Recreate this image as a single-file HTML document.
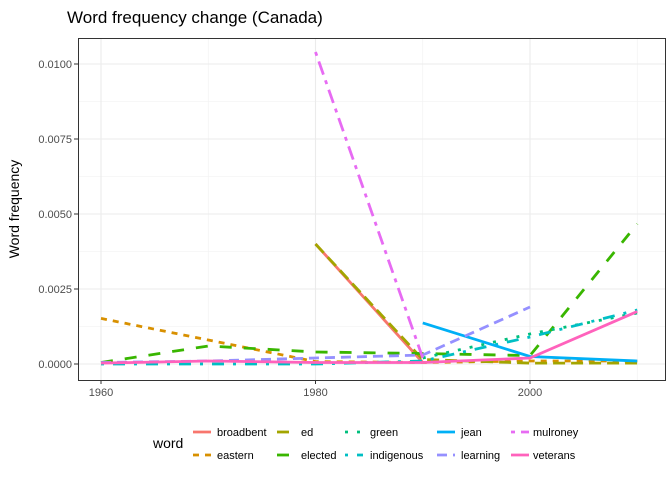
<!DOCTYPE html>
<html><head><meta charset="utf-8"><style>
body{margin:0;background:#fff;font-family:"Liberation Sans",Arial,sans-serif}
</style></head><body>
<svg id="c" width="672" height="480" xmlns="http://www.w3.org/2000/svg" font-family="Liberation Sans, Arial, sans-serif">
<text x="67" y="23" font-size="17" fill="#000">Word frequency change (Canada)</text>
<text transform="translate(19,209) rotate(-90)" text-anchor="middle" font-size="14" fill="#000">Word frequency</text>
<g id="grid"></g><g id="series"></g><g id="axes"></g><g id="legend"></g>
<rect x="78.5" y="38.5" width="587" height="342" fill="none" stroke="#333" stroke-width="1"/>
</svg>
<script>
const xTicks=[1960,1980,2000];
const yTicks=[0,0.0025,0.005,0.0075,0.01];
const yLabels=["0.0000","0.0025","0.0050","0.0075","0.0100"];
const words=["broadbent","eastern","ed","elected","green","indigenous","jean","learning","mulroney","veterans"];
const colors=["#F8766D","#D89000","#A3A500","#39B600","#00BF7D","#00BFC4","#00B0F6","#9590FF","#E76BF3","#FF62BC"];
const dashes=["","6,6","12,6","12,12","3,9","3,9,12,9","","10,6","4,6,14,6",""];
const years={broadbent:[1980,1990],eastern:[1960,1970,1980,1990,2000,2010],ed:[1980,1990,2000,2010],elected:[1960,1970,1980,1990,2000,2010],green:[1990,2000,2010],indigenous:[1960,1970,1980,1990,2000,2010],jean:[1990,2000,2010],learning:[1960,1970,1980,1990,2000],mulroney:[1980,1990],veterans:[1960,1970,1980,1990,2000,2010]};
const broadbent=[0.0040,0.00005];
const eastern=[0.00152,0.0008,0.00008,0.00005,0.0001,0.0001];
const ed=[0.0040,0.00015,0.00003,0.00003];
const elected=[0.00005,0.0006,0.0004,0.00035,0.00028,0.00467];
const green=[0.0002,0.001,0.0017];
const indigenous=[0.0,0.0,0.0,0.0001,0.0009,0.0018];
const jean=[0.00137,0.00025,0.0001];
const learning=[0.00005,0.0001,0.0002,0.0003,0.0019];
const mulroney=[0.0104,0.0002];
const veterans=[0.00003,0.0001,0.00005,0.00005,0.0002,0.00175];
const vals={broadbent,eastern,ed,elected,green,indigenous,jean,learning,mulroney,veterans};
const NS="http://www.w3.org/2000/svg";
const X=y=>101+(y-1960)*10.725, Y=v=>364-v*30000;
function mk(t,a,p){const e=document.createElementNS(NS,t);for(const k in a)e.setAttribute(k,a[k]);p.appendChild(e);return e;}
const g=document.getElementById('grid'),ax=document.getElementById('axes'),s=document.getElementById('series'),lg=document.getElementById('legend');
[1970,1990,2010].forEach(v=>{const l=mk('line',{x1:X(v),x2:X(v),y1:38,y2:380,stroke:'#f0f0f0','stroke-width':0.6},g);});
yTicks.slice(0,4).forEach(v=>{const l=mk('line',{x1:78,x2:665,y1:Y(v+0.00125),y2:Y(v+0.00125),stroke:'#f0f0f0','stroke-width':0.6},g);});
xTicks.forEach(v=>{const l=mk('line',{x1:X(v),x2:X(v),y1:38,y2:380,stroke:'#ebebeb','stroke-width':1.1},g);
const m=mk('line',{x1:X(v),x2:X(v),y1:380,y2:384,stroke:'#333'},ax);
const t=mk('text',{x:X(v),y:396,'text-anchor':'middle','font-size':11,fill:'#4d4d4d'},ax);t.textContent=v;});
yTicks.forEach((v,i)=>{const l=mk('line',{x1:78,x2:665,y1:Y(v),y2:Y(v),stroke:'#ebebeb','stroke-width':1.1},g);
const m=mk('line',{x1:74,x2:78,y1:Y(v),y2:Y(v),stroke:'#333'},ax);
const t=mk('text',{x:72,y:Y(v)+4,'text-anchor':'end','font-size':11,fill:'#4d4d4d'},ax);t.textContent=yLabels[i];});
words.forEach((w,i)=>{const pts=years[w].map((y,j)=>X(y)+','+Y(vals[w][j])).join(' ');
const p=mk('polyline',{points:pts,fill:'none',stroke:colors[i],'stroke-width':2.8,'stroke-dasharray':dashes[i]||'none'},s);
});
const lt=mk('text',{x:153,y:448,'font-size':14,fill:'#000'},lg);lt.textContent='word';
const colX=[193,277,345,437,511],txtX=[217,301,370,461,533];
words.forEach((w,i)=>{const c=Math.floor(i/2),r=i%2,yy=r?455:432;
const e=mk('g',{},lg);
mk('line',{x1:colX[c],x2:colX[c]+18,y1:yy,y2:yy,stroke:colors[i],'stroke-width':2.8,'stroke-dasharray':dashes[i]||'none'},e);
const t=mk('text',{x:txtX[c],y:yy+4,'font-size':11,fill:'#000'},e);t.textContent=w;});
</script>
</body></html>
